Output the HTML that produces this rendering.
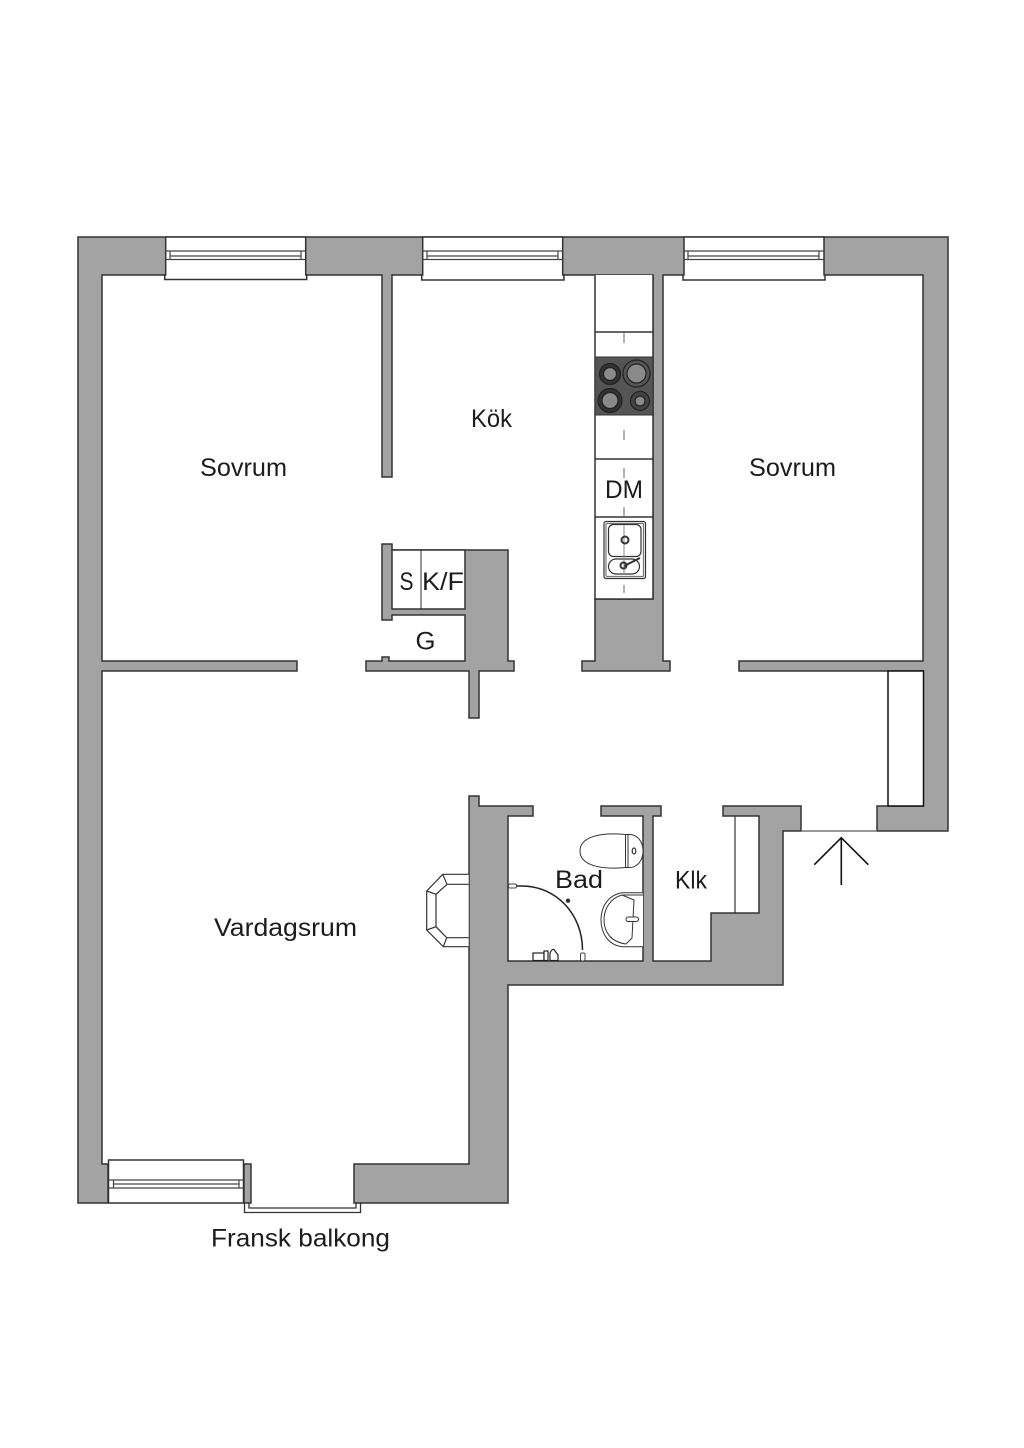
<!DOCTYPE html>
<html><head><meta charset="utf-8"><style>
html,body{margin:0;padding:0;background:#fff}
svg{display:block}
text{font-family:"Liberation Sans",sans-serif;font-size:25px;fill:#1c1c1c}
</style></head><body>
<svg width="1024" height="1448" viewBox="0 0 1024 1448" xmlns="http://www.w3.org/2000/svg">
<g fill="#a3a3a3" stroke="#333" stroke-width="1.5" stroke-linejoin="miter">
<path d="M78 237H948V831H877V806H923V671H739V661H923V275H663V661H670V671H582V661H595V599H653V275H392V477H382V275H102V661H297V671H102V1164H108V1203H78Z"/>
<path d="M469 796H479V806H533V816H508V961H643V816H601V806H661V816H653V961H711V913H759V816H723V806H801V831H783V985H508V1203H354V1164H469Z"/>
<path d="M382 544H392V550H508V661H514V671H479V718H469V671H366V661H382V657H389V661H465V615H392V620H382Z"/>
<rect x="244" y="1164" width="7" height="39"/>
</g>
<!-- kitchen counter -->
<g fill="#fff" stroke="#333" stroke-width="1.5">
<path d="M595 275V599H653V275" />
<rect x="392" y="550" width="73" height="59"/>
<path d="M421 550V609" fill="none" stroke-width="1"/>
<rect x="888" y="671" width="35.500" height="135" stroke="#111"/>
<path d="M735 816V913" fill="none" stroke-width="1.200"/>
<path d="M595 332H653M595 459H653M595 517H653" fill="none"/>
</g>
<path d="M624 333V343M624 430V440M624 468V478M624 507V516M624 585V593" stroke="#666" stroke-width="1" fill="none"/>
<!-- hob -->
<rect x="595" y="357" width="58" height="58" fill="#555" stroke="#333"/>
<g stroke="#222" stroke-width="1.200">
<circle cx="610" cy="374" r="10.500" fill="#333"/><circle cx="610" cy="374" r="6.500" fill="#8a8a8a"/>
<circle cx="636.500" cy="373.500" r="13.500" fill="#555"/><circle cx="636.500" cy="373.500" r="9.500" fill="#8a8a8a"/>
<circle cx="610" cy="400.500" r="12" fill="#333"/><circle cx="610" cy="400.500" r="8" fill="#8a8a8a"/>
<circle cx="640" cy="401" r="9.500" fill="#444"/><circle cx="640" cy="401" r="5" fill="#8a8a8a"/>
</g>
<!-- sink -->
<g fill="none" stroke="#333" stroke-width="1.200">
<rect x="604" y="521.500" width="41.500" height="57" rx="2" fill="#fff"/>
<rect x="606" y="523.500" width="37.500" height="53" rx="1" stroke="#777"/>
<rect x="608.500" y="524.500" width="32.500" height="32" rx="5"/>
<rect x="608.500" y="559" width="31" height="15" rx="7.500"/>
<path d="M624 525V575" stroke="#888" stroke-width="1"/>
<circle cx="625" cy="540" r="3.500" stroke-width="2"/>
<circle cx="623.500" cy="565.500" r="3" stroke-width="2"/>
<path d="M624 566L640 558" stroke-width="2"/>
</g>
<!-- windows -->
<g fill="#fff" stroke="#333" stroke-width="1.500">
<path d="M165.700 237H305.700V275H306.700V279.500H164.700V275H165.700Z"/>
<path d="M422.700 237H562.700V275H564V280H421.700V275H422.700Z"/>
<path d="M684 237H824V275H825V280H683V275H684Z"/>
<rect x="108.500" y="1160" width="135" height="43"/>
</g>
<g fill="none" stroke="#444" stroke-width="1.200">
<path d="M166 251H305M166 259.500H305M170 251V259.500M301 251V259.500M170 256H301"/>
<path d="M423 251H562M423 259.500H562M427 251V259.500M558 251V259.500M427 256H558"/>
<path d="M684 251H824M684 259.500H824M688 251V259.500M819 251V259.500M688 256H819"/>
<path d="M109 1180H243M109 1188H243M113.500 1180V1188M239 1180V1188M113.500 1184H239"/>
</g>
<path d="M244.500 1203V1212.500H360.500V1203M249 1203V1208H356V1203" fill="none" stroke="#333" stroke-width="1.300"/>
<!-- door threshold, arrow -->
<path d="M801 831H877" stroke="#777" stroke-width="1.500"/>
<path d="M814.300 864.700L841.300 837.700L868.300 864.700M841.300 837.700V885" fill="none" stroke="#111" stroke-width="1.600"/>
<!-- fireplace -->
<path d="M468.700 874.300H442.700L426.700 891V930L443.300 946.700H468.700M468.700 884.300H447L436 894.300V926.700L446.700 937.700H468.700M442.700 874.300L447 884.300M426.700 891L436 894.300M426.700 930L436 926.700M443.300 946.700L446.700 937.700" fill="#fff" stroke="#333" stroke-width="1.200"/>
<!-- toilet -->
<g fill="#fff" stroke="#333" stroke-width="1">
<path d="M625.500 834.500C600 832 580 837 580 851C580 865 600 870 625.500 867.500Z"/>
<path d="M625.500 834.500H630C638 835 643 842 643 851C643 860 638 867 630 867.500H625.500Z"/>
<path d="M628 835V867" fill="none"/>
<ellipse cx="634" cy="851" rx="1.800" ry="3" stroke-width="1.200"/>
<!-- basin -->
<path d="M643 892.700H622C608 895 601 907 601 920C601 933 608 945 622 946.700H643" />
<path d="M643 895H622C611 898 604 908 604 920C604 932 611 942 626 944L632 938L634 900L622 895" fill="none"/>
<rect x="626" y="917" width="12.500" height="4.500" rx="2.200"/>
</g>
<!-- shower -->
<path d="M516 886H522C556 886 582.500 914 582.500 950" fill="none" stroke="#222" stroke-width="1.500"/>
<rect x="508.500" y="884" width="8" height="4" rx="1.500" fill="#fff" stroke="#444" stroke-width="1"/>
<rect x="580.500" y="953" width="4.500" height="8" rx="1.500" fill="#fff" stroke="#444" stroke-width="1"/>
<circle cx="568" cy="900.700" r="2.200" fill="#333"/>
<g fill="#fff" stroke="#222" stroke-width="1.200">
<rect x="533" y="953" width="11" height="7.500"/><rect x="544" y="951" width="4" height="9.500"/><path d="M550 960.500V953Q553 947 555 951L558 955V960.500Z"/>
</g>
<!-- labels -->
<text x="200" y="476" textLength="87" lengthAdjust="spacingAndGlyphs">Sovrum</text>
<text x="471" y="427" textLength="41" lengthAdjust="spacingAndGlyphs">Kök</text>
<text x="749" y="476" textLength="87" lengthAdjust="spacingAndGlyphs">Sovrum</text>
<text x="605" y="498" textLength="38" lengthAdjust="spacingAndGlyphs">DM</text>
<text x="399.500" y="590" textLength="14" lengthAdjust="spacingAndGlyphs">S</text>
<text x="422" y="590" textLength="42" lengthAdjust="spacingAndGlyphs">K/F</text>
<text x="415.500" y="649.500" textLength="20" lengthAdjust="spacingAndGlyphs">G</text>
<text x="555" y="888" textLength="48" lengthAdjust="spacingAndGlyphs">Bad</text>
<text x="675" y="888.500" textLength="32" lengthAdjust="spacingAndGlyphs">Klk</text>
<text x="214" y="936" textLength="143" lengthAdjust="spacingAndGlyphs">Vardagsrum</text>
<text x="211" y="1246.500" textLength="179" lengthAdjust="spacingAndGlyphs">Fransk balkong</text>
</svg>
</body></html>
